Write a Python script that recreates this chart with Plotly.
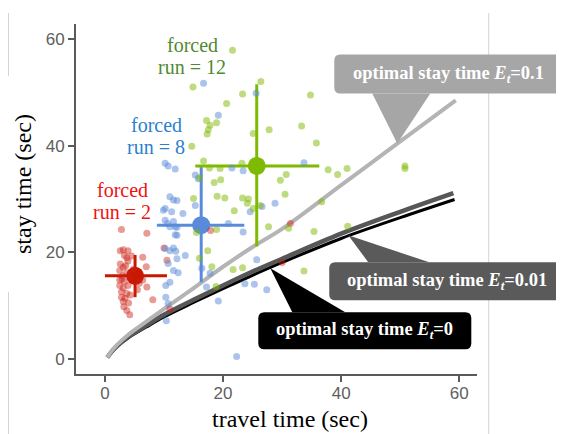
import plotly.graph_objects as go

# ---------------- data ----------------
red_x = [2.6, 3.1, 3.9, 3.3, 3.7, 4.5, 3.9, 2.6, 3.1, 2.5, 3.7, 3.0, 4.2, 2.5, 3.3, 2.5, 3.9, 3.1,
         2.8, 3.7, 2.8, 3.4, 3.1, 4.0, 3.2, 3.7, 4.2, 6.4, 7.0, 6.4, 7.1, 5.8, 2.8, 7.1, 10.0, 10.5,
         8.1, 11.0, 17.9, 30.0, 31.4, 3.5, 4.8, 2.9, 4.3, 5.5]
red_y = [20.3, 20.5, 20.3, 19.4, 19.0, 19.3, 18.4, 17.8, 17.2, 16.6, 16.2, 15.6, 15.3, 14.8, 14.5, 13.8,
         13.8, 13.3, 12.6, 12.3, 11.6, 11.4, 10.8, 10.5, 9.8, 9.1, 8.3, 19.1, 17.3, 14.8, 13.5, 14.2,
         24.3, 23.6, 20.8, 18.5, 11.1, 9.4, 24.1, 18.1, 25.4, 17.5, 16.8, 15.0, 12.0, 13.0]

blue_x = [10.2, 10.7, 11.9, 15.3, 15.8, 21.5, 23.4, 33.7, 16.7, 19.2, 25.6, 11.0, 11.6, 12.2, 9.9,
          10.2, 11.3, 13.2, 15.3, 24.6, 26.6, 28.8, 10.2, 11.6, 12.2, 20.9, 23.4, 10.6, 11.0, 11.9,
          12.2, 11.6, 11.0, 12.0, 10.2, 13.6, 12.2, 10.7, 11.6, 12.4, 16.4, 17.8, 11.0, 10.3, 17.2,
          10.3, 10.4, 10.7, 19.2, 25.7, 22.3, 23.7, 25.3, 27.4, 11.9]
blue_y = [36.7, 36.2, 35.6, 34.5, 33.8, 35.8, 35.3, 36.8, 51.7, 45.7, 49.8, 30.4, 29.8, 29.7, 27.9,
          28.2, 27.6, 27.3, 28.8, 27.6, 28.6, 29.2, 26.0, 25.8, 24.7, 25.4, 23.8, 25.4, 24.8, 24.8,
          23.2, 20.8, 20.3, 20.2, 20.7, 19.4, 18.8, 17.9, 16.6, 16.2, 17.0, 16.1, 14.4, 13.8, 13.5,
          11.6, 7.2, 10.4, 10.9, 18.6, 0.5, 14.1, 14.0, 13.0, 23.3]

green_x = [21.6, 14.9, 26.4, 23.3, 20.6, 17.2, 17.8, 17.5, 17.3, 18.9, 25.1, 27.8, 14.7, 16.7, 17.7,
           19.5, 23.2, 16.0, 18.5, 19.6, 29.7, 30.7, 15.0, 19.0, 20.3, 23.3, 24.3, 24.1, 26.3, 21.9,
           25.1, 30.5, 27.7, 18.9, 15.5, 17.4, 16.0, 18.1, 21.7, 23.3, 18.8, 35.8, 37.8, 39.4, 41.0,
           36.7, 31.1, 35.4, 41.1, 34.8, 33.3, 50.8, 50.8, 33.7]
green_y = [57.9, 51.0, 52.0, 49.7, 47.9, 44.7, 43.8, 43.0, 42.2, 44.3, 42.3, 43.0, 39.9, 37.1, 35.8,
           35.7, 36.7, 34.0, 33.1, 33.6, 33.5, 34.6, 30.1, 30.5, 30.2, 30.2, 30.0, 29.2, 28.8, 27.8,
           28.2, 30.9, 24.8, 24.3, 23.7, 20.3, 18.9, 17.3, 16.8, 17.1, 13.6, 40.5, 35.5, 34.6, 35.7,
           29.5, 24.5, 23.9, 24.9, 49.5, 43.7, 36.2, 35.7, 16.5]

group_names = ["forced run = 2", "forced run = 8", "forced run = 12"]
mean_x = [5.1, 16.3, 25.7]
mean_y = [15.6, 25.1, 36.2]
mean_x_lo = [0.0, 8.8, 15.3]
mean_x_hi = [10.5, 23.6, 36.3]
mean_y_lo = [11.6, 14.4, 21.1]
mean_y_hi = [19.5, 36.0, 51.5]

curve_x_e01 = [0.4, 1, 2, 4, 7, 10, 14, 20, 25, 30, 40, 50, 59.4]
curve_y_e01 = [0.3, 1.3, 2.6, 4.6, 7.0, 9.4, 12.5, 17.3, 21.0, 24.4, 32.6, 40.8, 48.5]
curve_x_e001 = [0.4, 1, 2, 4, 7, 10, 15, 20, 25, 30, 40, 50, 59.0]
curve_y_e001 = [0.3, 1.2, 2.4, 4.2, 6.3, 8.3, 11.1, 13.8, 16.4, 18.8, 23.5, 27.6, 31.1]
curve_x_e0 = [0.4, 1, 2, 4, 7, 10, 15, 20, 25, 30, 40, 50, 59.2]
curve_y_e0 = [0.3, 1.15, 2.3, 4.0, 6.0, 7.9, 10.6, 13.2, 15.7, 18.1, 22.6, 26.5, 29.9]

callout_labels = ["optimal stay time <i>E<sub>t</sub></i>=0.1",
                  "optimal stay time <i>E<sub>t</sub></i>=0.01",
                  "optimal stay time <i>E<sub>t</sub></i>=0"]
callout_tip_x = [49.5, 41.2, 28.0]
callout_tip_y = [40.4, 23.2, 17.0]

x_ticks = [0, 20, 40, 60]
y_ticks = [0, 20, 40, 60]

# ---------------- geometry ----------------
# the page body adds an 8px offset; screen coords = figure coords + 8
OFF = 8
W, H = 564 - OFF, 434 - OFF
ML, MR, MT, MB = 76 - OFF, 87, 24 - OFF, 60
PW, PH = W - ML - MR, H - MT - MB
XR = [-4.9, 63.0]
YR = [-2.8, 62.8]


def dpx(x):  # data -> screen px
    return OFF + ML + (x - XR[0]) / (XR[1] - XR[0]) * PW


def dpy(y):
    return OFF + MT + (YR[1] - y) / (YR[1] - YR[0]) * PH


def pap(px, py):  # screen px -> paper
    fx, fy = px - OFF, py - OFF
    return (fx - ML) / PW, (H - MB - fy) / PH


fig = go.Figure()

# curves
for cx, cy, col, w in [(curve_x_e0, curve_y_e0, "#000000", 3),
                       (curve_x_e001, curve_y_e001, "#575757", 4.5),
                       (curve_x_e01, curve_y_e01, "#b4b4b4", 4)]:
    fig.add_trace(go.Scatter(x=cx, y=cy, mode="lines", line=dict(color=col, width=w, shape="spline"),
                             hoverinfo="skip", showlegend=False))

mean_cols = ["#c81800", "#5a8ada", "#7dba00"]
pt_cols = ["rgba(205,30,20,0.45)", "rgba(90,138,218,0.5)", "rgba(125,186,0,0.5)"]

# means with error bars
for i in range(3):
    fig.add_trace(go.Scatter(
        x=[mean_x[i]], y=[mean_y[i]], mode="markers",
        marker=dict(color=mean_cols[i], size=18),
        error_x=dict(type="data", symmetric=False, array=[mean_x_hi[i] - mean_x[i]],
                     arrayminus=[mean_x[i] - mean_x_lo[i]], color=mean_cols[i], thickness=3, width=0),
        error_y=dict(type="data", symmetric=False, array=[mean_y_hi[i] - mean_y[i]],
                     arrayminus=[mean_y[i] - mean_y_lo[i]], color=mean_cols[i], thickness=3, width=0),
        name=group_names[i], showlegend=False))

# raw points
for xs, ys, c in [(red_x, red_y, pt_cols[0]), (blue_x, blue_y, pt_cols[1]), (green_x, green_y, pt_cols[2])]:
    fig.add_trace(go.Scatter(x=xs, y=ys, mode="markers", marker=dict(color=c, size=7),
                             showlegend=False))

shapes = []
annotations = []


def rounded_rect(x0, y0, x1, y1, r):
    def P(a, b):
        u, v = pap(a, b)
        return f"{u:.5f},{v:.5f}"
    s = f"M {P(x0 + r, y0)} L {P(x1 - r, y0)} Q {P(x1, y0)} {P(x1, y0 + r)} "
    s += f"L {P(x1, y1 - r)} Q {P(x1, y1)} {P(x1 - r, y1)} "
    s += f"L {P(x0 + r, y1)} Q {P(x0, y1)} {P(x0, y1 - r)} "
    s += f"L {P(x0, y0 + r)} Q {P(x0, y0)} {P(x0 + r, y0)} Z"
    return s


# callout layout: (box dx0, dx1, dy0, dy1, tri base dx0, dx1, base dy) relative to tip in pixels
callout_geo = [(-63, 166, -89, -50, -25, 33, -50),
               (-19, 216, 27, 65, 20, 81, 27),
               (-12, 201, 44, 81, 22, 75, 44)]
callout_cols = ["#a6a6a6", "#5a5a5a", "#000000"]
for i in range(3):
    tx, ty = dpx(callout_tip_x[i]), dpy(callout_tip_y[i])
    bx0, bx1, by0, by1, t0, t1, tb = callout_geo[i]
    shapes.append(dict(type="path", xref="paper", yref="paper", layer="above",
                       path=rounded_rect(tx + bx0, ty + by0, tx + bx1, ty + by1, 6),
                       fillcolor=callout_cols[i], line=dict(width=0)))
    a = pap(tx, ty)
    b = pap(tx + t0, ty + tb)
    c = pap(tx + t1, ty + tb)
    shapes.append(dict(type="path", xref="paper", yref="paper", layer="above",
                       path=f"M {a[0]:.5f},{a[1]:.5f} L {b[0]:.5f},{b[1]:.5f} L {c[0]:.5f},{c[1]:.5f} Z",
                       fillcolor=callout_cols[i], line=dict(width=0)))
    cxp, cyp = pap(tx + (bx0 + bx1) / 2, ty + (by0 + by1) / 2)
    annotations.append(dict(xref="paper", yref="paper", x=cxp, y=cyp, showarrow=False,
                            text="<b>" + callout_labels[i] + "</b>",
                            font=dict(family="Liberation Serif, Times New Roman, serif", size=18.5,
                                      color="white"),
                            xanchor="center", yanchor="middle"))

# group labels (two lines each)
label_cols = ["#f01010", "#2b7fce", "#4e8a30"]
label_pos = [(122, 190, 212), (156, 125, 147), (192, 45, 67)]
label_lines = [("forced", "run = 2"), ("forced", "run = 8"), ("forced", "run = 12")]
for i in range(3):
    xp, y1p, y2p = label_pos[i]
    for ln, yp in zip(label_lines[i], (y1p, y2p)):
        u, v = pap(xp, yp)
        annotations.append(dict(xref="paper", yref="paper", x=u, y=v, text=ln, showarrow=False,
                                xanchor="center", yanchor="middle",
                                font=dict(family="Liberation Serif, Times New Roman, serif", size=20,
                                          color=label_cols[i])))

# axis titles
u, v = pap(290, 419)
annotations.append(dict(xref="paper", yref="paper", x=u, y=v, text="travel time (sec)", showarrow=False,
                        xanchor="center", yanchor="middle",
                        font=dict(family="Liberation Serif, Times New Roman, serif", size=24, color="black")))
u, v = pap(23, 184)
annotations.append(dict(xref="paper", yref="paper", x=u, y=v, text="stay time (sec)", showarrow=False,
                        xanchor="center", yanchor="middle", textangle=-90,
                        font=dict(family="Liberation Serif, Times New Roman, serif", size=24, color="black")))

# faint frame lines around (page decoration)
deco = [((8.5, 13), (8.5, 76)), ((8, 76), (8.5, 76)), ((8, 292), (8.5, 292)), ((8.5, 292), (8.5, 434)),
        ((488.7, 13), (488.7, 434))]
for (p0, p1) in deco:
    a = pap(*p0)
    b = pap(*p1)
    shapes.append(dict(type="line", xref="paper", yref="paper", x0=a[0], y0=a[1], x1=b[0], y1=b[1],
                       line=dict(color="#d4d4d4", width=1), layer="below"))

fig.update_layout(
    width=W, height=H,
    margin=dict(l=ML, r=MR, t=MT, b=MB, pad=0),
    paper_bgcolor="white", plot_bgcolor="rgba(0,0,0,0)",
    shapes=shapes, annotations=annotations, showlegend=False,
    xaxis=dict(range=XR, tickvals=x_ticks, showgrid=False, zeroline=False, showline=True,
               linecolor="#5a5a5a", linewidth=2, ticks="outside", ticklen=6, tickwidth=1.5,
               ticklabelstandoff=-3,
               tickcolor="#5a5a5a", tickfont=dict(family="Liberation Sans, Arial", size=17, color="#606060")),
    yaxis=dict(range=YR, tickvals=y_ticks, showgrid=False, zeroline=False, showline=True,
               linecolor="#5a5a5a", linewidth=2, ticks="outside", ticklen=6, tickwidth=1.5,
               tickcolor="#5a5a5a", tickfont=dict(family="Liberation Sans, Arial", size=17, color="#606060")),
)

fig.write_html("out.html")
